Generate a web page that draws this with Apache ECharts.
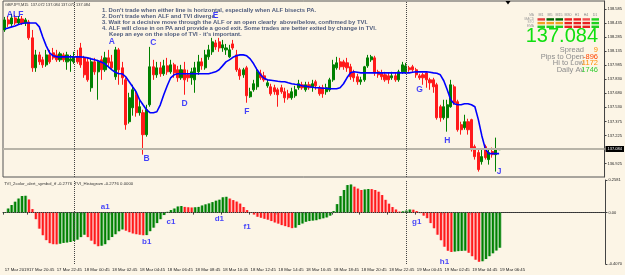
<!DOCTYPE html>
<html><head><meta charset="utf-8">
<script src="https://cdn.jsdelivr.net/npm/echarts@6/dist/echarts.min.js"></script>
<style>html,body{margin:0;padding:0;background:#fcf5e6;}#c{width:625px;height:275px;}</style>
</head><body><div id="c"></div>
<script>
// ---------- DATA ----------
const opens = [138.359,138.467,138.424,138.488,138.434,138.477,138.434,138.445,138.274,137.952,
138.091,138.038,137.984,138.091,138.113,138.091,138.038,138.091,138.016,138.027,
138.016,138.070,138.166,138.059,138.016,137.738,138.016,137.909,138.038,137.931,
138.059,138.016,137.856,138.145,137.952,137.823,137.373,137.523,137.663,137.470,
137.470,137.234,137.555,137.963,137.877,137.952,137.888,137.973,137.909,137.984,
137.931,137.845,137.931,137.877,137.845,137.823,137.909,138.016,137.952,138.070,
138.124,138.220,138.231,138.166,138.145,138.070,138.209,138.091,137.931,137.877,
137.952,137.641,137.716,137.748,137.888,137.866,137.759,137.748,137.738,137.716,
137.738,137.695,137.673,137.630,137.652,137.738,137.770,137.716,137.770,137.748,
137.802,137.738,137.738,137.695,137.716,137.823,137.952,138.016,138.016,138.006,
137.963,137.898,137.856,137.802,137.823,137.973,138.038,138.059,137.909,137.898,
137.877,137.866,137.845,137.866,137.823,137.909,137.909,137.952,137.963,137.931,
137.866,137.877,137.898,137.823,137.823,137.770,137.534,137.416,137.416,137.534,
137.748,137.588,137.341,137.309,137.373,137.395,137.105,137.041,136.944,137.105,
136.966,137.052,137.019,137.072];
const closes = [138.467,138.424,138.488,138.434,138.477,138.434,138.467,138.274,137.952,138.091,
138.016,137.984,138.091,138.016,138.059,138.038,138.102,138.038,138.091,138.048,
138.070,138.016,137.984,137.877,137.823,138.016,137.909,138.016,137.931,138.059,
138.006,137.952,138.145,137.931,137.845,137.341,137.630,137.716,137.470,137.534,
137.234,137.502,137.963,137.877,137.952,137.888,137.973,137.909,137.984,137.898,
137.845,137.931,137.823,137.845,137.909,137.952,138.016,137.973,138.091,138.145,
138.231,138.177,138.166,138.199,138.166,138.145,138.166,137.931,137.866,137.931,
137.652,137.695,137.781,137.909,137.845,137.823,137.791,137.673,137.695,137.663,
137.695,137.630,137.630,137.695,137.716,137.781,137.738,137.770,137.738,137.781,
137.759,137.673,137.673,137.738,137.823,137.984,138.006,137.963,137.963,137.952,
137.856,137.845,137.802,137.823,137.963,138.059,138.070,137.898,137.877,137.856,
137.823,137.823,137.866,137.823,137.909,137.984,137.973,137.931,137.931,137.877,
137.845,137.845,137.823,137.791,137.748,137.416,137.416,137.534,137.555,137.770,
137.577,137.287,137.287,137.373,137.287,137.073,136.998,136.859,136.998,136.987,
137.041,137.019,137.073,137.084];
const lows = [138.338,138.392,138.402,138.413,138.413,138.413,138.402,138.252,137.909,137.909,
137.984,137.952,137.963,137.995,138.038,138.016,138.016,138.016,137.931,137.909,
137.995,137.995,137.952,137.845,137.802,137.695,137.877,137.609,137.823,137.909,
137.973,137.931,137.823,137.770,137.770,137.287,137.352,137.438,137.427,137.438,
137.019,137.212,137.534,137.823,137.845,137.856,137.866,137.877,137.888,137.845,
137.802,137.823,137.663,137.802,137.770,137.684,137.877,137.931,137.931,138.038,
138.091,138.145,138.124,138.124,138.091,138.059,138.145,137.909,137.823,137.845,
137.577,137.630,137.695,137.716,137.823,137.802,137.738,137.652,137.663,137.534,
137.673,137.577,137.609,137.609,137.630,137.716,137.716,137.695,137.716,137.695,
137.716,137.652,137.630,137.663,137.695,137.802,137.931,137.931,137.931,137.909,
137.823,137.802,137.770,137.770,137.802,137.952,138.016,137.866,137.845,137.823,
137.802,137.781,137.823,137.802,137.802,137.888,137.888,137.909,137.909,137.845,
137.823,137.770,137.738,137.716,137.684,137.395,137.373,137.395,137.266,137.523,
137.555,137.266,137.234,137.287,137.234,137.052,136.966,136.837,136.912,136.966,
136.912,136.987,136.837,137.072];
const highs = [138.499,138.509,138.531,138.520,138.509,138.509,138.488,138.467,138.359,138.145,
138.124,138.070,138.145,138.145,138.166,138.145,138.124,138.113,138.124,138.091,
138.124,138.145,138.220,138.081,138.059,138.059,138.059,138.038,138.081,138.124,
138.145,138.091,138.177,138.166,138.016,137.845,137.684,137.770,137.716,137.609,
137.502,137.555,138.177,138.038,138.016,138.016,138.038,138.059,138.038,138.006,
137.973,137.984,138.016,137.931,137.952,138.016,138.091,138.059,138.145,138.199,
138.274,138.252,138.274,138.252,138.209,138.199,138.252,138.145,137.952,137.952,
137.973,137.738,137.823,137.952,137.931,137.909,137.823,137.781,137.770,137.738,
137.770,137.738,137.716,137.738,137.759,137.823,137.802,137.802,137.802,137.823,
137.823,137.759,137.770,137.781,137.845,138.038,138.070,138.059,138.038,138.059,
137.995,137.931,137.888,137.856,137.973,138.091,138.091,138.081,137.931,137.931,
137.909,137.898,137.909,137.898,137.931,138.016,138.006,137.973,137.984,137.952,
137.888,137.898,137.909,137.845,137.845,137.791,137.555,137.609,137.609,137.823,
137.770,137.609,137.373,137.448,137.405,137.405,137.127,137.073,137.073,137.127,
137.073,137.095,137.202,137.084];
const alf = [138.370,138.381,138.392,138.402,138.418,138.429,138.434,138.434,138.434,138.434,
138.392,138.284,138.188,138.113,138.081,138.070,138.070,138.070,138.070,138.070,
138.070,138.070,138.070,138.065,138.059,138.048,138.038,138.027,138.011,137.995,
137.963,137.931,137.904,137.888,137.888,137.856,137.802,137.748,137.695,137.609,
137.555,137.502,137.470,137.470,137.480,137.555,137.663,137.759,137.845,137.877,
137.888,137.888,137.888,137.888,137.888,137.888,137.888,137.888,137.888,137.888,
137.898,137.909,137.931,137.973,138.016,138.038,138.065,138.081,138.091,138.091,
138.081,138.048,137.995,137.931,137.877,137.840,137.823,137.818,137.813,137.807,
137.802,137.802,137.791,137.781,137.775,137.770,137.759,137.754,137.748,137.743,
137.738,137.738,137.732,137.732,137.727,137.727,137.727,137.738,137.781,137.845,
137.898,137.909,137.904,137.898,137.898,137.898,137.898,137.898,137.898,137.898,
137.898,137.898,137.898,137.898,137.898,137.898,137.898,137.898,137.904,137.909,
137.909,137.909,137.909,137.904,137.898,137.893,137.877,137.813,137.716,137.609,
137.566,137.555,137.555,137.566,137.566,137.555,137.534,137.395,137.223,137.084,
137.030,137.030,137.030,137.030];
const tvi = [0.004,0.032,0.060,0.086,0.111,0.131,0.133,0.103,0.028,-0.052,
-0.127,-0.179,-0.218,-0.242,-0.250,-0.251,-0.246,-0.240,-0.236,-0.233,
-0.225,-0.214,-0.194,-0.175,-0.194,-0.222,-0.250,-0.266,-0.262,-0.250,
-0.218,-0.194,-0.171,-0.147,-0.133,-0.143,-0.155,-0.165,-0.171,-0.175,
-0.179,-0.178,-0.147,-0.119,-0.083,-0.052,-0.020,0.006,0.020,0.032,
0.048,0.052,0.045,0.042,0.040,0.042,0.045,0.056,0.065,0.073,
0.083,0.094,0.102,0.121,0.125,0.111,0.099,0.087,0.071,0.044,
0.020,0.002,-0.016,-0.033,-0.040,-0.049,-0.056,-0.067,-0.078,-0.087,
-0.099,-0.107,-0.115,-0.123,-0.119,-0.099,-0.086,-0.073,-0.067,-0.063,
-0.060,-0.052,-0.045,-0.038,-0.024,0.012,0.067,0.131,0.179,0.218,
0.222,0.205,0.190,0.179,0.183,0.187,0.186,0.179,0.165,0.139,
0.101,0.071,0.044,0.024,0.008,0.010,0.016,0.024,0.023,0.012,
-0.004,-0.024,-0.044,-0.083,-0.123,-0.175,-0.218,-0.270,-0.302,-0.312,
-0.308,-0.305,-0.303,-0.301,-0.318,-0.345,-0.373,-0.389,-0.385,-0.368,
-0.345,-0.322,-0.300,-0.278];

const totalSlots = 174;              // bars + chart shift space
const timeTickIndex = [0,7,15,23,31,39,47,55,63,71,79,87,95,103,111,119,127,135,143];
const timeTickText = ['17 Mar 2019','17 Mar 20:45','17 Mar 22:45','18 Mar 00:45','18 Mar 02:45','18 Mar 04:45',
 '18 Mar 06:45','18 Mar 08:45','18 Mar 10:45','18 Mar 12:45','18 Mar 14:45','18 Mar 16:45','18 Mar 18:45',
 '18 Mar 20:45','18 Mar 22:45','19 Mar 00:45','19 Mar 02:45','19 Mar 04:45','19 Mar 06:45'];
const daySeparators = ['20','116'];
const priceTicks = [138.585,138.435,138.285,138.135,137.985,137.830,137.680,137.530,137.375,137.225,136.925,136.775];
const subTicks = [0.2581, 0, -0.4070];
const subTickText = ['0.2581','0.00','-0.4070'];
const lastPrice = 137.084;

const annoText  = ['ALF','A','B','C','D','E','F','G','H','J'];
const annoIndex = [3,31,41,43,52,61,70,120,128,143];
const annoPrice = [138.520,138.231,136.977,138.220,137.566,138.509,137.480,137.716,137.170,136.837];
const subAnnoText  = ['a1','b1','c1','d1','f1','g1','h1'];
const subAnnoIndex = [29,41,48,62,70,119,127];
const subAnnoValue = [0.044,-0.234,-0.075,-0.052,-0.115,-0.075,-0.393];

const notes = [
 "1. Don't trade when either line is horizontal, especially when ALF bisects PA.",
 "2. Don't trade when ALF and TVI diverge.",
 "3. Wait for a decisive move through the ALF or an open clearly  above/below, confirmed by TVI.",
 "4. ALF will close in on PA and provide a good exit. Some trades are better exited by change in TVI.",
 "Keep an eye on the slope of TVI - it's important."
];
const tfHeaders = ['M1','M5','M15','M30','H1','H4','D1'];
const signalRows = [
 ['#e23a3a','#006400','#006400','#e82020','#e82020','#f05050','#20d020'],
 ['#f0a020','#f0a020','#f0a020','#e82020','#e82020','#e82020','#20d020'],
 ['#20d020','#20d020','#20d020','#e82020','#e82020','#e82020','#20d020']
];
const stats = [['Spread','9','#ff8c00'],['Pips to Open','-896','#ff4500'],['Hi to Low','1172','#ff8c00'],['Daily Av','1746','#32cd32']];

// ---------- CHART ----------
const GREEN='#008000', RED='#ff1a1a', LGREEN='#98cc98', LRED='#ffb0b0', BLUE='#1414ff';
const chart = echarts.init(document.getElementById('c'), null, {renderer:'canvas', width:625, height:275});
const cats = Array.from({length: totalSlots}, (_, i) => String(i));
const tickMap = {}; timeTickIndex.forEach((k, j) => { tickMap[k] = timeTickText[j]; });
const candleData = opens.map((o, i) => [o, closes[i], lows[i], highs[i]]);
const upFlags = tvi.map((v, i) => (i === 0 ? 1 : (v >= tvi[i - 1] ? 1 : 0)));

const graphics = [];
graphics.push({type:'text', x:5, y:5, style:{text:'GBPJPY,M15  137.072 137.084 137.072 137.084', font:'3.9px Arial', fill:'#333', verticalAlign:'middle'}});
notes.forEach((t, k) => graphics.push({type:'text', x: k === 4 ? 109 : 102, y: 10 + k * 6,
  style:{text:t, font:'bold 5.9px Arial', fill:'#4f5c7c', verticalAlign:'middle'}}));
graphics.push({type:'text', x:4, y:184, style:{text:'TVI_2color_alert_symbol_tf -0.2776  TVI_Histogram -0.2776 0.0000', font:'4.3px Arial', fill:'#333', verticalAlign:'middle'}});
// right panel
tfHeaders.forEach((h, c) => graphics.push({type:'text', x:541 + c * 9, y:15, style:{text:h, font:'3.6px Arial', fill:'#888', align:'center', verticalAlign:'middle'}}));
['MA','MACD','STO','EMA'].forEach((h, r) => graphics.push({type:'text', x:534, y:15 + r * 3.8, style:{text:h, font:'3.2px Arial', fill:'#999', align:'right', verticalAlign:'middle'}}));
signalRows.forEach((row, r) => row.forEach((col, c) => graphics.push({type:'rect', shape:{x:537.5 + c * 9, y:18.2 + r * 3.7, width:7.5, height:2.4}, style:{fill:col}})));
graphics.push({type:'text', x:598, y:36, style:{text:'137.084', font:'20px Arial', fill:'#10e010', align:'right', verticalAlign:'middle'}});
stats.forEach((s, k) => {
  graphics.push({type:'text', x:584, y:50 + k * 6.7, style:{text:s[0], font:'7.5px Arial', fill:'#8c8c8c', align:'right', verticalAlign:'middle'}});
  graphics.push({type:'text', x:598, y:50 + k * 6.7, style:{text:s[1], font:'7.5px Arial', fill:s[2], align:'right', verticalAlign:'middle'}});
});
graphics.push({type:'polygon', shape:{points:[[505.5,1],[510.5,1],[508,4.5]]}, style:{fill:'#000'}});

const option = {
  backgroundColor: '#fcf5e6',
  animation: false,
  grid: [
    {left:3, right:19, top:1, height:176, show:true, borderColor:'#555', borderWidth:1},
    {left:3, right:19, top:180, height:84, show:false}
  ],
  xAxis: [
    {type:'category', gridIndex:0, data:cats, boundaryGap:true, axisLine:{show:false}, axisTick:{show:false}, axisLabel:{show:false}, splitLine:{show:false}},
    {type:'category', gridIndex:1, data:cats, boundaryGap:true,
      axisLine:{show:true, lineStyle:{color:'#444'}},
      axisTick:{show:true, interval:(i) => tickMap[i] !== undefined, length:2, lineStyle:{color:'#444'}},
      axisLabel:{show:true, interval:0, formatter:(v, i) => tickMap[i] || '', align:'left', fontSize:4.3, color:'#222', margin:4, fontFamily:'Arial'},
      splitLine:{show:false}}
  ],
  yAxis: [
    {type:'value', gridIndex:0, position:'right', min:136.779, max:138.670, splitLine:{show:false},
      axisLine:{show:true, lineStyle:{color:'#444'}},
      axisTick:{show:true, customValues:priceTicks, length:2, lineStyle:{color:'#444'}},
      axisLabel:{customValues:priceTicks, formatter:(v) => v.toFixed(3), fontSize:4, color:'#222', margin:3, fontFamily:'Arial'}},
    {type:'value', gridIndex:1, position:'right', min:-0.4070, max:0.2581, splitLine:{show:false},
      axisLine:{show:true, lineStyle:{color:'#444'}},
      axisTick:{show:true, customValues:subTicks, length:2, lineStyle:{color:'#444'}},
      axisLabel:{customValues:subTicks, formatter:(v) => { const k = subTicks.findIndex(t => Math.abs(t - v) < 1e-6); return k >= 0 ? subTickText[k] : ''; }, fontSize:4, color:'#222', margin:3, fontFamily:'Arial'}}
  ],
  series: [
    {type:'candlestick', xAxisIndex:0, yAxisIndex:0, data:candleData, barWidth:2.6,
      itemStyle:{color:GREEN, color0:RED, borderColor:GREEN, borderColor0:RED, borderWidth:1},
      markLine:{silent:true, symbol:['none','none'], animation:false, data:[
        {yAxis:lastPrice, lineStyle:{color:'#b8b4a8', width:2, type:'solid'},
          label:{show:true, position:'end', formatter:lastPrice.toFixed(3), backgroundColor:'#000', color:'#fff', fontSize:4, padding:[1,2], distance:1}},
        {xAxis:daySeparators[0], lineStyle:{color:'#444', width:1, type:'dotted'}, label:{show:false}},
        {xAxis:daySeparators[1], lineStyle:{color:'#444', width:1, type:'dotted'}, label:{show:false}}
      ]}},
    {type:'line', xAxisIndex:0, yAxisIndex:0, data:alf, showSymbol:false, symbol:'none', z:4,
      lineStyle:{color:'#0000ff', width:1.6}},
    {type:'scatter', xAxisIndex:0, yAxisIndex:0, z:6, symbolSize:1, itemStyle:{color:'rgba(0,0,0,0)'},
      data:annoIndex.map((x, k) => [x, annoPrice[k], annoText[k]]),
      label:{show:true, position:'inside', formatter:(p) => p.data[2], color:BLUE, fontWeight:'bold', fontSize:8.5, fontFamily:'Arial'}},
    {type:'custom', xAxisIndex:1, yAxisIndex:1, z:2,
      data:tvi.map((v, i) => [i, v, upFlags[i]]),
      renderItem:(params, api) => {
        const i = api.value(0), v = api.value(1), u = api.value(2);
        const p0 = api.coord([i, 0]), p1 = api.coord([i, v]);
        const w = api.size([1, 0])[0];
        const y = Math.min(p0[1], p1[1]), h = Math.abs(p1[1] - p0[1]);
        return {type:'group', children:[
          {type:'rect', shape:{x:p0[0] - w / 2, y:y, width:w, height:h}, style:{fill: u ? LGREEN : LRED}},
          {type:'rect', shape:{x:p0[0] - w * 0.27, y:y, width:w * 0.54, height:h}, style:{fill: u ? GREEN : RED}}
        ]};
      }},
    {type:'scatter', xAxisIndex:1, yAxisIndex:1, z:6, symbolSize:1, itemStyle:{color:'rgba(0,0,0,0)'},
      data:subAnnoIndex.map((x, k) => [x, subAnnoValue[k], subAnnoText[k]]),
      label:{show:true, position:'inside', formatter:(p) => p.data[2], color:BLUE, fontWeight:'bold', fontSize:8, fontFamily:'Arial'},
      markLine:{silent:true, symbol:['none','none'], animation:false, data:[
        {yAxis:0, lineStyle:{color:'#333', width:1, type:'dotted'}, label:{show:false}},
        {xAxis:daySeparators[0], lineStyle:{color:'#444', width:1, type:'dotted'}, label:{show:false}},
        {xAxis:daySeparators[1], lineStyle:{color:'#444', width:1, type:'dotted'}, label:{show:false}}
      ]}}
  ],
  graphic: graphics
};
chart.setOption(option);
</script></body></html>
